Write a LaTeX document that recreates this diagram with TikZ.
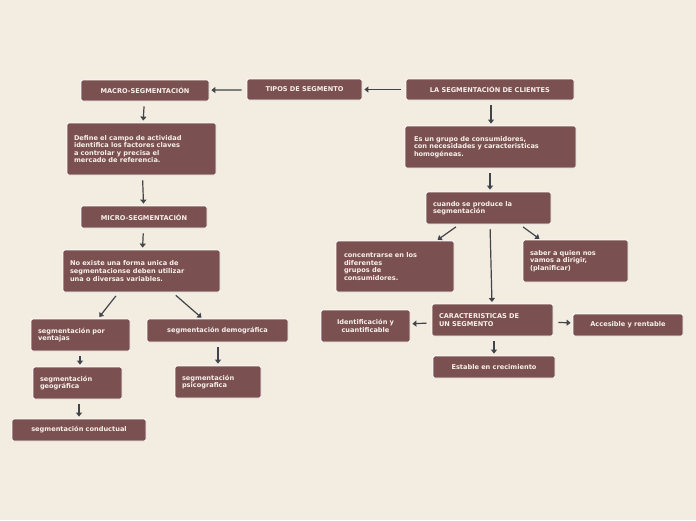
\documentclass[tikz,border=0pt]{standalone}
\usepackage{fontspec}
\setmainfont{DejaVu Sans}
\usetikzlibrary{arrows.meta}
\definecolor{bg}{HTML}{F3ECE1}
\definecolor{boxc}{HTML}{7A5050}
\definecolor{txt}{HTML}{F8F0EA}
\definecolor{arr}{HTML}{40454B}
\tikzset{
 bx/.style={draw=white, line width=0.8pt, fill=boxc, rounded corners=2pt, text=txt,
  font=\bfseries\fontsize{6.6}{7.6}\selectfont, inner sep=0pt, anchor=center},
 lt/.style={align=left},
 ct/.style={align=center},
 ar/.style={draw=arr, line width=1.2pt, -{Triangle[length=4pt,width=6pt]}, shorten >=2pt, shorten <=5pt}
}
\newcommand{\bxn}[8]{% name, l,t,r,b, align, text-width, text
 \node[bx,#6,minimum width={(#4-#2)*1pt},minimum height={(#5-#3)*1pt},text width={#7pt}] (#1) at ({(#2+#4)/2},{(#3+#5)/2}) {#8};}
\begin{document}
\begin{tikzpicture}[x=1pt,y=-1pt]
\fill[bg] (0,0) rectangle (696,520);
\useasboundingbox (0,0) rectangle (696,520);
\bxn{tipos}{247}{79}{362}{100}{ct}{105}{TIPOS DE SEGMENTO}
\bxn{la}{406}{79}{574}{100}{ct}{158}{LA SEGMENTACIÓN DE CLIENTES}
\bxn{macro}{81}{80}{209}{101}{ct}{118}{MACRO-SEGMENTACIÓN}
\bxn{def}{67}{123}{216}{175}{lt}{135}{Define el campo de actividad\\identifica los factores claves\\a controlar y precisa el\\mercado de referencia.}
\bxn{micro}{81}{206}{207}{228}{ct}{116}{MICRO-SEGMENTACIÓN}
\bxn{noex}{63}{250}{220}{292}{lt}{143}{No existe una forma unica de\\segmentacionse deben utilizar\\una o diversas variables.}
\bxn{vent}{31}{319}{130}{351}{lt}{85}{segmentación por\\ventajas}
\bxn{demo}{147}{319}{288}{342}{ct}{131}{segmentación demográfica}
\bxn{geo}{33}{367}{122}{399}{lt}{75}{segmentación\\geográfica}
\bxn{psi}{175}{366}{261}{398}{lt}{72}{segmentación\\psicografica}
\bxn{cond}{12}{419}{146}{441}{ct}{124}{segmentación conductual}
\bxn{es}{405}{126}{576}{168}{lt}{153}{Es un grupo de consumidores,\\con necesidades y caracteristicas\\homogéneas.}
\bxn{cuando}{426}{192}{551}{224}{lt}{111}{cuando se produce la\\segmentación}
\bxn{conc}{336}{241}{454}{292}{lt}{102}{concentrarse en los\\diferentes\\grupos de\\consumidores.}
\bxn{saber}{523}{240}{628}{282}{lt}{91}{saber a quien nos\\vamos a dirigir,\\(planificar)}
\bxn{car}{432}{304}{553}{336}{lt}{107}{CARACTERISTICAS DE\\UN SEGMENTO}
\bxn{ide}{321}{310}{410}{342}{ct}{85}{Identificación y\\cuantificable}
\bxn{acc}{573}{314}{683}{336}{ct}{104}{Accesible y rentable}
\bxn{est}{433}{356}{555}{378}{ct}{116}{Estable en crecimiento}
\draw[ar] (la) -- (tipos);
\draw[ar] (tipos) -- (macro);
\draw[ar] (macro) -- (def);
\draw[ar] (def) -- (micro);
\draw[ar] (micro) -- (noex);
\draw[ar] (119,292) -- (vent.north -| 98,0);
\draw[ar] (172,292) -- (203,319);
\draw[ar] (vent.south -| 80,0) -- (geo.north -| 80,0);
\draw[ar] (demo.south -| 218,0) -- (psi.north -| 218,0);
\draw[ar] (geo.south -| 79,0) -- (cond.north -| 79,0);
\draw[ar] (la.south -| 491,0) -- (es.north -| 491,0);
\draw[ar] (es.south -| 490,0) -- (cuando.north -| 490,0);
\draw[ar] (460,224) -- (436,241);
\draw[ar] (519,224) -- (541,240);
\draw[ar] (490,224) -- (492,304);
\draw[ar] (car) -- (ide);
\draw[ar] (car) -- (acc);
\draw[ar] (car.south -| 494,0) -- (est.north -| 494,0);
\end{tikzpicture}
\end{document}
